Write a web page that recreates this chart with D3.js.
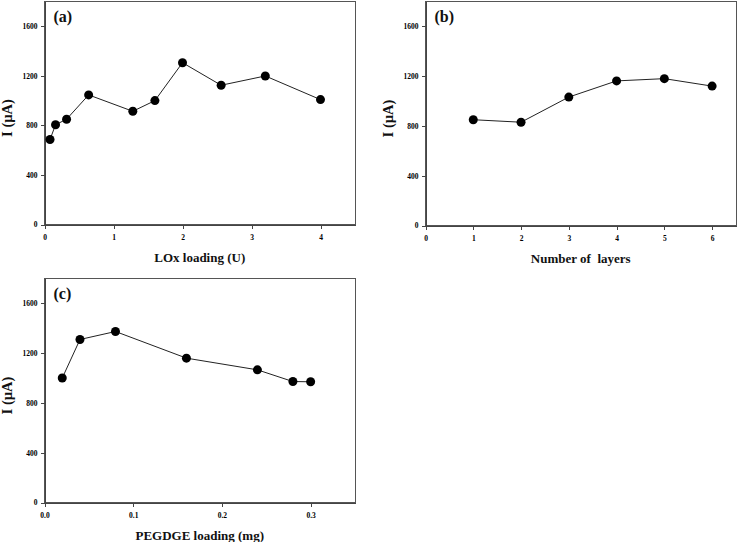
<!DOCTYPE html>
<html lang="en">
<head>
  <meta charset="UTF-8">
  <title>LOx / layers / PEGDGE</title>
  <script src="https://d3js.org/d3.v7.min.js"></script>
  <style>
    body { margin: 0; background: #fff; }
    .axis path, .axis line { fill: none; stroke: #444; shape-rendering: crispEdges; }
    .axis text { font-family: "Liberation Serif", "Times New Roman", serif; font-weight: bold; font-size: 7.5px; fill: #000; }
    .title { font-family: "Liberation Serif", "Times New Roman", serif; font-weight: bold; fill: #111; }
  </style>
</head>
<body>
  <svg id="svg" width="738" height="542"></svg>
  <script>
    // data
    var loxLoading = [0.08, 0.16, 0.32, 0.64, 1.28, 1.6, 2, 2.56, 3.2, 4]
    var loxCurrent = [686, 805, 850, 1046, 914, 1000, 1306, 1124, 1199, 1008]

    var layers = [1, 2, 3, 4, 5, 6]
    var layersCurrent = [850, 830, 1032, 1162, 1180, 1120]

    var pegdgeLoading = [0.02, 0.04, 0.08, 0.16, 0.24, 0.28, 0.30]
    var pegdgeCurrent = [1000, 1310, 1374, 1160, 1066, 972, 970]

    var yTicks = [0, 400, 800, 1200, 1600]
    var xTicksA = [0, 1, 2, 3, 4]
    var xTicksB = [0, 1, 2, 3, 4, 5, 6]
    var xTicksC = [0, 0.1, 0.2, 0.3]

    var panels = [
      { tag: '(a)', x: loxLoading, y: loxCurrent, xMax: 4.5, xTicks: xTicksA, fmt: d3.format('d'),
        xTitle: 'LOx loading (U)', left: 44.5, top: 1.5, right: 355, bottom: 224.5 },
      { tag: '(b)', x: layers, y: layersCurrent, xMax: 6.5, xTicks: xTicksB, fmt: d3.format('d'),
        xTitle: 'Number of\u00a0 layers', left: 425.5, top: 1.5, right: 736, bottom: 225.5 },
      { tag: '(c)', x: pegdgeLoading, y: pegdgeCurrent, xMax: 0.35, xTicks: xTicksC, fmt: d3.format('.1f'),
        xTitle: 'PEGDGE loading (mg)', left: 44.5, top: 278.5, right: 355, bottom: 502.5 }
    ]

    var svg = d3.select('#svg')

    panels.forEach(function (p) {
      var w = p.right - p.left
      var h = p.bottom - p.top
      var g = svg.append('g').attr('transform', 'translate(' + p.left + ',' + p.top + ')')

      var x = d3.scaleLinear().domain([0, p.xMax]).range([0, w])
      var y = d3.scaleLinear().domain([0, 1800]).range([h, 0])

      // frame
      g.append('rect')
        .attr('width', w).attr('height', h)
        .attr('fill', 'none').attr('stroke', '#555')
        .attr('shape-rendering', 'crispEdges')

      g.append('g').attr('class', 'axis')
        .call(d3.axisLeft(y).tickValues(yTicks).tickFormat(d3.format('d')).tickSize(4).tickPadding(3).tickSizeOuter(0))

      g.append('g').attr('class', 'axis')
        .attr('transform', 'translate(0,' + h + ')')
        .call(d3.axisBottom(x).tickValues(p.xTicks).tickFormat(p.fmt).tickSize(4).tickPadding(6).tickSizeOuter(0))

      var pts = p.x.map(function (d, i) { return [d, p.y[i]] })

      g.append('path')
        .datum(pts)
        .attr('fill', 'none')
        .attr('stroke', '#222')
        .attr('stroke-width', 1)
        .attr('d', d3.line().x(function (d) { return x(d[0]) }).y(function (d) { return y(d[1]) }))

      g.selectAll('circle')
        .data(pts)
        .enter()
        .append('circle')
        .attr('cx', function (d) { return x(d[0]) })
        .attr('cy', function (d) { return y(d[1]) })
        .attr('r', 4.5)
        .attr('fill', '#000')

      g.append('text').attr('class', 'title')
        .attr('x', 9).attr('y', 20)
        .attr('font-size', 16)
        .text(p.tag)

      g.append('text').attr('class', 'title')
        .attr('x', w / 2).attr('y', h + 37)
        .attr('text-anchor', 'middle')
        .attr('font-size', 13)
        .text(p.xTitle)

      g.append('text').attr('class', 'title')
        .attr('transform', 'translate(' + (-33) + ',' + (h / 2 + 5) + ') rotate(-90)')
        .attr('text-anchor', 'middle')
        .attr('font-size', 14.5)
        .text('I (\u00b5A)')
    })
  </script>
</body>
</html>
